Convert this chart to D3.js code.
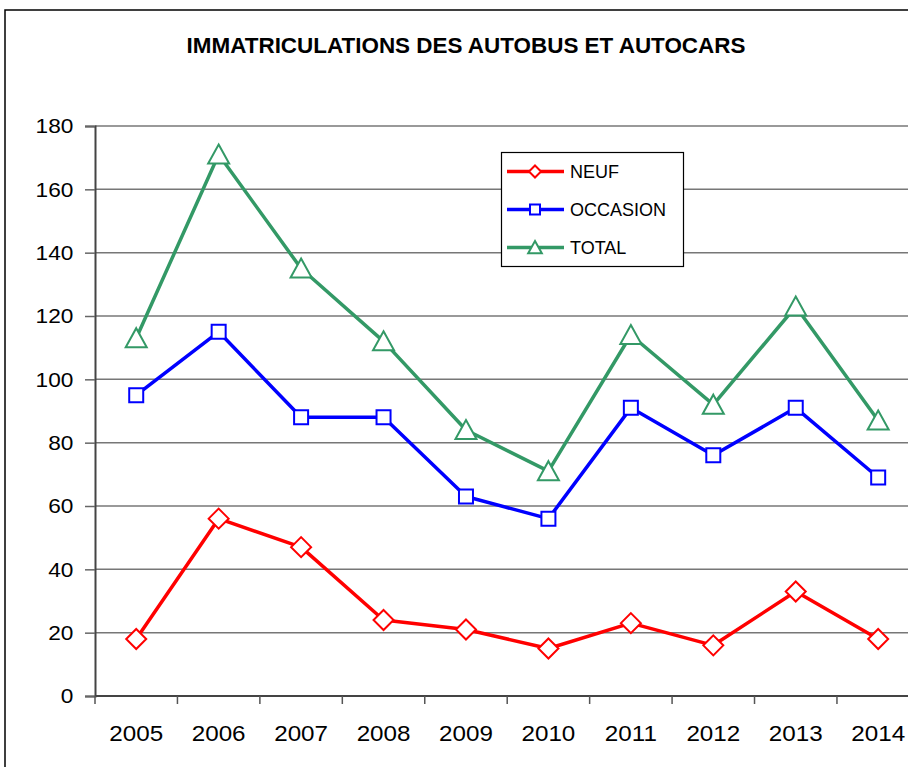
<!DOCTYPE html>
<html>
<head>
<meta charset="utf-8">
<script src="https://cdn.jsdelivr.net/npm/d3@7"></script>
<style>
  html, body { margin: 0; padding: 0; background: #fff; }
  svg { display: block; font-family: "Liberation Sans", Arial, sans-serif; }
</style>
</head>
<body>
<svg id="chart" width="908" height="767"></svg>
<script>
const years = ["2005","2006","2007","2008","2009","2010","2011","2012","2013","2014"];
const neuf = [18, 56, 47, 24, 21, 15, 23, 16, 33, 18];
const occasion = [95, 115, 88, 88, 63, 56, 91, 76, 91, 69];
const total = [113, 171, 135, 112, 84, 71, 114, 92, 123, 87];
const yTicks = [0, 20, 40, 60, 80, 100, 120, 140, 160, 180];
const title = "IMMATRICULATIONS DES AUTOBUS ET AUTOCARS";
const seriesNames = ["NEUF", "OCCASION", "TOTAL"];

(function () {
const svg = d3.select("#chart");
const W = 908, H = 767;
const plotLeft = 95, bandW = 82.44, plotTop = 126, plotBottom = 696;

const x = d3.scaleBand().domain(years).range([plotLeft, plotLeft + bandW * years.length]).padding(0);
const y = d3.scaleLinear().domain([0, 180]).range([plotBottom, plotTop]);

// outer chart border (only top and left visible; chart is cropped)
svg.append("path")
  .attr("d", `M5,${H} L5,10 L${W},10`)
  .attr("fill", "none").attr("stroke", "#000").attr("stroke-width", 1.5);

// title
svg.append("text")
  .attr("transform", "translate(466,53) scale(1.02,1)")
  .attr("text-anchor", "middle")
  .attr("font-size", 22).attr("font-weight", "bold")
  .attr("fill", "#000")
  .text(title);

// gridlines
svg.append("g").selectAll("line")
  .data(yTicks.filter(d => d > 0))
  .join("line")
  .attr("x1", plotLeft).attr("x2", W)
  .attr("y1", d => y(d)).attr("y2", d => y(d))
  .attr("stroke", "#777").attr("stroke-width", 1.5);

// y axis
const yAxis = svg.append("g")
  .attr("transform", `translate(${plotLeft},0)`)
  .call(d3.axisLeft(y).tickValues(yTicks).tickSize(10).tickPadding(10).tickFormat(d3.format("d")));
yAxis.select(".domain").attr("stroke", "#444").attr("stroke-width", 2);
yAxis.selectAll(".tick line").attr("stroke", "#666").attr("stroke-width", 1.5);
yAxis.selectAll(".tick text")
  .attr("font-size", 21).attr("fill", "#000")
  .attr("font-family", "Liberation Sans, Arial, sans-serif")
  .attr("transform", "scale(1.08,1)");

// x axis
const xAxis = svg.append("g")
  .attr("transform", `translate(0,${plotBottom})`)
  .call(d3.axisBottom(x).tickSize(0));
xAxis.select(".domain").remove();
xAxis.append("line")
  .attr("x1", plotLeft).attr("x2", W).attr("y1", 0).attr("y2", 0)
  .attr("stroke", "#444").attr("stroke-width", 2);
xAxis.selectAll(".tick text")
  .attr("font-size", 22).attr("fill", "#000")
  .attr("font-family", "Liberation Sans, Arial, sans-serif")
  .attr("dy", null)
  .attr("x", 0).attr("y", 45)
  .attr("transform", "scale(1.1,1)");
xAxis.selectAll("line.band")
  .data(years.concat(["end"]))
  .join("line")
  .attr("class", "band")
  .attr("x1", (d, i) => i < years.length ? x(d) : x.range()[1])
  .attr("x2", (d, i) => i < years.length ? x(d) : x.range()[1])
  .attr("y1", 0).attr("y2", 8)
  .attr("stroke", "#555").attr("stroke-width", 1.5);

const cx = d => x(d) + x.bandwidth() / 2;

const series = [
  { name: seriesNames[0], values: neuf, color: "#ff0000", marker: "diamond" },
  { name: seriesNames[1], values: occasion, color: "#0000ff", marker: "square" },
  { name: seriesNames[2], values: total, color: "#339966", marker: "triangle" }
];

function markerPath(type, s) {
  if (type === "diamond") return `M0,${-s} L${s},0 L0,${s} L${-s},0 Z`;
  if (type === "square") return `M${-s},${-s} L${s},${-s} L${s},${s} L${-s},${s} Z`;
  return `M0,${-s} L${s * 1.05},${s * 0.9} L${-s * 1.05},${s * 0.9} Z`;
}
const markerSize = { diamond: 10, square: 7, triangle: 10 };

const line = d3.line().x((d, i) => cx(years[i])).y(d => y(d));

series.forEach(s => {
  const g = svg.append("g");
  g.append("path")
    .attr("d", line(s.values))
    .attr("fill", "none").attr("stroke", s.color)
    .attr("stroke-width", 3.5).attr("stroke-linejoin", "round");
  g.selectAll("path.m")
    .data(s.values)
    .join("path")
    .attr("class", "m")
    .attr("transform", (d, i) => `translate(${cx(years[i])},${y(d)})`)
    .attr("d", markerPath(s.marker, markerSize[s.marker]))
    .attr("fill", "#fff").attr("stroke", s.color).attr("stroke-width", 2);
});

// legend
const lg = svg.append("g");
lg.append("rect")
  .attr("x", 501.5).attr("y", 152.5).attr("width", 182).attr("height", 114)
  .attr("fill", "#fff").attr("stroke", "#000").attr("stroke-width", 1.2);
const legendY = [171.5, 209.5, 247.5];
const legendMarker = { diamond: 6, square: 5, triangle: 6.5 };
series.forEach((s, i) => {
  const r = lg.append("g").attr("transform", `translate(0,${legendY[i]})`);
  r.append("line").attr("x1", 507).attr("x2", 564).attr("y1", 0).attr("y2", 0)
    .attr("stroke", s.color).attr("stroke-width", 3.5);
  r.append("path").attr("transform", "translate(535,0)")
    .attr("d", markerPath(s.marker, legendMarker[s.marker]))
    .attr("fill", "#fff").attr("stroke", s.color).attr("stroke-width", 2);
  r.append("text").attr("x", 570).attr("y", 6.5)
    .attr("font-size", 18).attr("fill", "#000")
    .text(s.name);
});
})();
</script>
</body>
</html>
